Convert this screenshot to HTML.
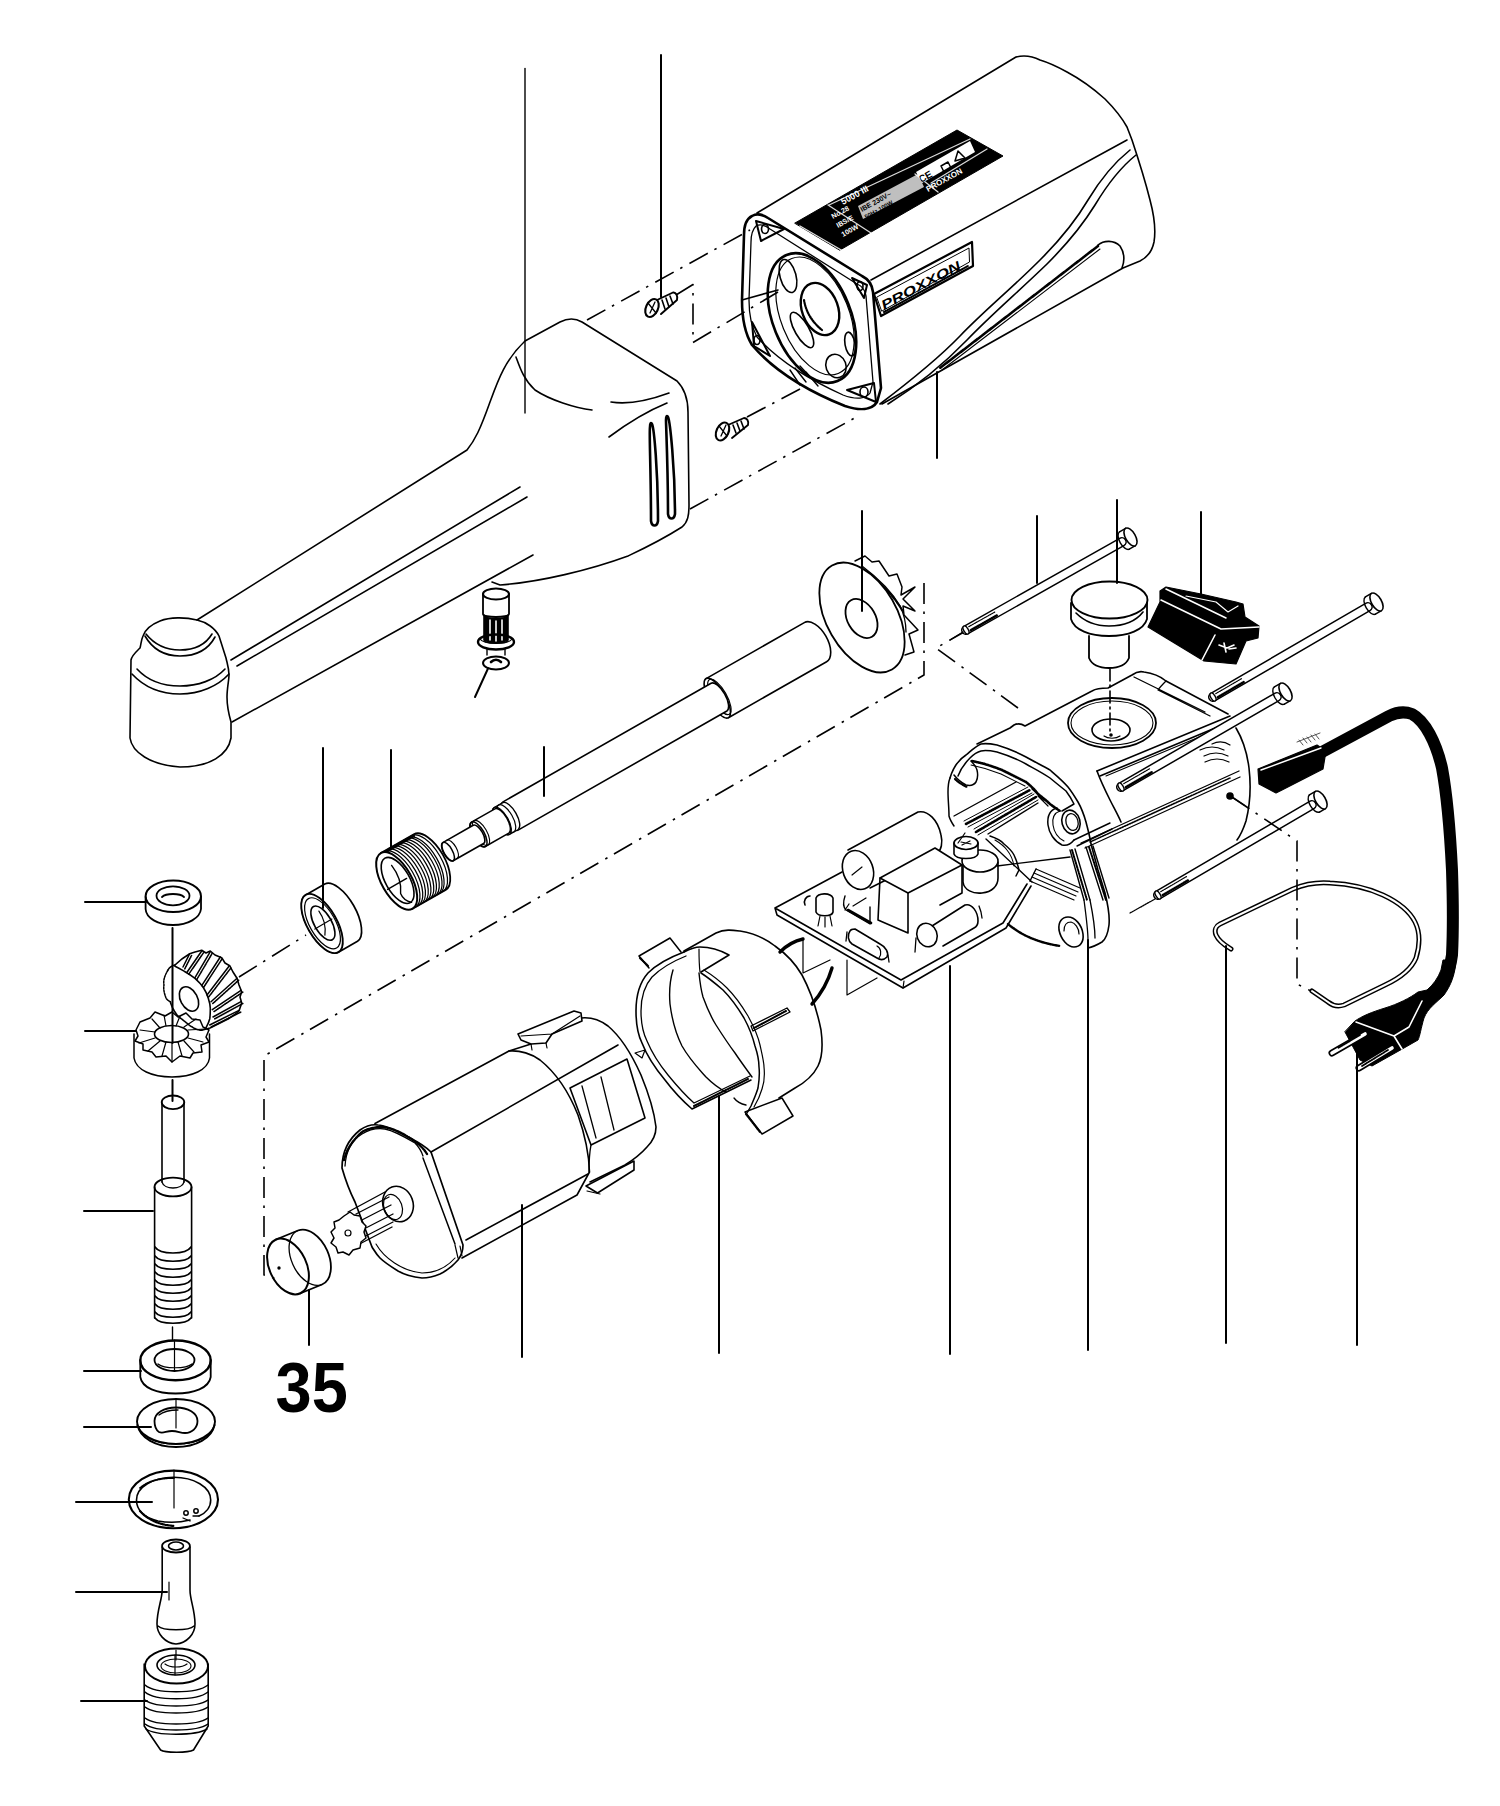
<!DOCTYPE html>
<html><head><meta charset="utf-8">
<style>
html,body{margin:0;padding:0;background:#fff;}
svg{display:block;}
text{font-family:"Liberation Sans",sans-serif;}
</style></head>
<body>
<svg width="1500" height="1806" viewBox="0 0 1500 1806">
<rect width="1500" height="1806" fill="#fff"/>
<g fill="none" stroke="#000" stroke-width="1.6" stroke-linecap="round" stroke-linejoin="round">
<!-- DASH-DOT LINES -->
<g id="dash" stroke-width="1.6" stroke-dasharray="21 7.5 2.5 8" stroke-linecap="butt">
<path d="M587 320L750 230"/>
<path d="M676 295L693 284.5V342.5L778 292"/>
<path d="M690 509L860 415"/>
<path d="M747 417L800 389"/>
<path d="M924 583V675L264 1056V1275L280 1280"/>
<path d="M1018 708L936 648L964 632"/>
<path d="M239 977L306 935"/>
</g>
<text x="0" y="0" transform="translate(275.5 1411.5) scale(1 1.085)" font-size="65" font-weight="bold" fill="#000" stroke="none">35</text>

<!-- GEARHEAD HOUSING -->
<g id="gearhead">
<path d="M197 620L467 450C475 440 480 430 490 402C498 380 505 360 525 341L560 322C568 318 575 318 582 322L677 381C684 388 688 398 688 412L689 505C689 515 688 522 682 527C660 541 645 548 628 556C590 570 540 582 500 585L492 582"/>
<path d="M516 357C520 368 524 380 535 390C550 400 575 408 592 410"/>
<path d="M611 402C630 405 650 400 669 393"/>
<path d="M609 437C625 425 645 412 667 403"/>
<path d="M231 660L520 487M237 666L527 497M232 722L533 555"/>
<!-- vents -->
<path d="M652 424C654 428 658 470 658 521C657 527 652 527 651 521C651 470 649 432 650 427C650 423 651 422 652 424Z" stroke-width="2.6"/>
<path d="M668 417C670 421 675 468 675 514C674 520 669 520 668 514C668 468 666 426 666 420C666 416 667 415 668 417Z" stroke-width="2.6"/>
<!-- head -->
<path d="M197 620C185 617 170 617 160 621C150 625 145 630 143 636C141 640 141 645 140 648C136 652 132 655 131 660L130 738C132 752 150 765 180 767C210 767 228 755 231 738L231 722C229 715 227 705 227 697C227 688 229 680 229 675C229 668 227 663 226 658L219 636C215 628 206 622 197 620Z"/>
<path d="M146 634C154 644 165 650 180 650C195 650 206 644 212 634"/>
<path d="M145 636C153 650 165 656 180 656C195 656 208 650 215 637"/>
<path d="M137 669C148 681 162 686 180 686C198 686 215 680 225 669"/>
<path d="M132 674C145 688 162 694 180 694C200 694 218 686 229 674"/>
<!-- pin under housing -->
<g>
<path d="M483 594V614C483 618 509 618 509 614V594" stroke-width="1.8"/>
<ellipse cx="496" cy="594" rx="13" ry="5.4" stroke-width="2"/>
<path d="M484 615C484 620 508 620 508 615L508 640C508 644 484 644 484 640Z" fill="#000"/>
<path d="M490 620V640M496 621V641M502 620V640" stroke="#fff" stroke-width="1.6"/>
<ellipse cx="496" cy="642" rx="18" ry="7.5" stroke-width="2.4"/>
<path d="M480 639C484 645 508 645 512 639" stroke-width="1.2"/>
<path d="M487 649V655M505 649V655" stroke-width="1.4"/>
<ellipse cx="496" cy="663" rx="13" ry="6.5" stroke-width="2"/>
<path d="M491 662C494 659 498 659 501 662" stroke-width="2.6"/>
</g>
</g>

<!-- MOTOR HOUSING (top right) -->
<g id="mhousing">
<!-- body silhouette -->
<path d="M757 213L1016 57C1024 55 1032 56 1040 60C1050 63 1058 67 1067 72C1082 80 1095 90 1105 99C1115 109 1122 118 1127 127L1132 140C1138 158 1145 180 1150 200C1154 215 1156 230 1154 242C1152 252 1146 258 1140 261L1123 268L882 404"/>
<!-- top/side edge -->
<path d="M871 280L1127 140"/>
<!-- swoosh double line -->
<path d="M1130 150C1115 162 1100 180 1088 200C1075 222 1060 240 1040 260C1010 290 985 310 960 336C935 362 905 385 880 404"/>
<path d="M1136 155C1121 167 1107 185 1095 205C1082 226 1067 244 1047 264C1017 293 992 314 967 340C942 366 912 389 888 404"/>
<!-- grip slot -->
<path d="M1098 245C1104 240 1114 240 1120 246C1124 252 1125 260 1122 268"/>
<path d="M1098 246L940 368" stroke-width="2.6" stroke-dasharray="1.2 0.8"/>
<path d="M1100 249L942 370" stroke-width="1.1"/>
<!-- front flange -->
<path d="M752 216C746 219 744 226 744 235L742 300C742 318 744 332 752 345C770 366 800 388 845 406C860 411 872 410 877 402L881 388L873 292C872 283 868 279 862 276L768 218C762 214 757 213 752 216Z" stroke-width="2.6"/>
<path d="M756 226C752 230 751 236 751 242L749 300C749 315 751 326 757 337C775 357 803 377 843 395C856 400 866 399 870 393L873 382L866 296C865 289 862 286 857 284L770 229C765 225 760 224 756 226Z" stroke-width="1.3"/>
<ellipse cx="812" cy="318" rx="39" ry="68" transform="rotate(-22 812 318)" stroke-width="2.6"/>
<ellipse cx="815" cy="316" rx="34" ry="62" transform="rotate(-22 815 316)" stroke-width="1.2"/>
<ellipse cx="820" cy="309" rx="18" ry="27" transform="rotate(-20 820 309)" stroke-width="2.4"/>
<path d="M804 300C806 312 812 322 822 330" stroke-width="2.2" stroke-dasharray="1.5 1"/>
<ellipse cx="788" cy="276" rx="8" ry="17" transform="rotate(-15 788 276)"/>
<ellipse cx="802" cy="330" rx="7" ry="20" transform="rotate(-30 802 330)"/>
<ellipse cx="836" cy="366" rx="10" ry="12" transform="rotate(-20 836 366)"/>
<ellipse cx="850" cy="344" rx="5" ry="12" transform="rotate(-10 850 344)"/>
<path d="M756 221L784 229L761 241Z" stroke-width="2"/>
<ellipse cx="765" cy="229" rx="3.5" ry="4.5" stroke-width="1.6"/>
<path d="M852 278L867 285L864 298Z" stroke-width="2"/>
<ellipse cx="860" cy="286" rx="3" ry="4.5" stroke-width="1.6"/>
<path d="M752 322L770 356L754 346Z" stroke-width="2"/>
<ellipse cx="757" cy="340" rx="3" ry="4.5" stroke-width="1.6"/>
<path d="M847 390L874 383L876 402Z" stroke-width="2"/>
<ellipse cx="864" cy="392" rx="4" ry="5" stroke-width="1.6"/>
<path d="M790 370L800 385M795 368L806 382M800 366L812 379M806 372L818 386" stroke-width="1.4"/>
<path d="M742 300L778 290" />
<!-- top label -->
<path d="M795 223L957 130L1003 156L840 250Z" fill="#000" stroke="#000" stroke-width="1"/>
<path d="M829 205L970 139M931 183L987 149M915 174L938 192M828 205L871 233M800 226L843 251" stroke="#fff" stroke-width="1.3" stroke-opacity="0.85"/>
<path d="M916 172L970 141L975 152L922 183Z" fill="#fff" stroke="none"/>
<g fill="#000" stroke="none" font-family="Liberation Sans" font-weight="bold">
<text font-size="10" transform="translate(921 183) rotate(-29)">CE</text>
</g>
<path d="M941 166L948 162L951 168L944 172ZM958 151L965 158L955 161Z" fill="none" stroke="#000" stroke-width="1.5"/>
<path d="M858 206L918 174L924 187L863 219Z" fill="#fff" stroke="none" fill-opacity="0.75"/>
<g fill="#000" stroke="none" font-family="Liberation Sans" font-weight="bold">
<text font-size="7" transform="translate(862 212) rotate(-29)">IBE 230V~</text>
<text font-size="6" transform="translate(866 219) rotate(-29)">50Hz 100W</text>
</g>
<g fill="#fff" stroke="none" font-family="Liberation Sans" font-weight="bold">
<text font-size="9" transform="translate(843 205) rotate(-29)">5000 III</text>
<text font-size="8" transform="translate(928 192) rotate(-29)">PROXXON</text>
<text font-size="7" transform="translate(833 219) rotate(-29)">No.28</text>
<text font-size="7" transform="translate(838 228) rotate(-29)">IBS/E</text>
<text font-size="7" transform="translate(843 237) rotate(-29)">100W</text>
</g>
<!-- side label -->
<path d="M874 294L972 242L973 266L881 316Z" fill="#fff" stroke="#000" stroke-width="2.2"/>
<path d="M877 297L969 248L969.5 262L882 311Z" fill="none" stroke="#000" stroke-width="1"/>
<g fill="#000" stroke="none" font-family="Liberation Sans" font-weight="bold" font-style="italic">
<text font-size="13" transform="translate(884 310) rotate(-28)" textLength="88" lengthAdjust="spacingAndGlyphs">PROXXON</text>
</g>
<path d="M884 312L968 266" stroke="#000" stroke-width="2" stroke-dasharray="1.3 1"/>
</g>
<!-- screws -->
<g id="screws">
<path d="M657 300L673 292.5C676 292 678 296 677 300L661 314" stroke-width="1.9"/>
<path d="M662 300L665 309M666 298L669 307M670 296L673 304" stroke-width="1.6"/>
<ellipse cx="652" cy="308" rx="6" ry="9.5" transform="rotate(25 652 308)" fill="#fff" stroke-width="2.1"/>
<path d="M648 303L656 313M650 313L655 302" stroke-width="1.3"/>
<path d="M728 425L744 418C747 418 749 421 748 425L732 438" stroke-width="1.9"/>
<path d="M733 425L736 433M737 423L740 431M741 421L744 429" stroke-width="1.6"/>
<ellipse cx="722.5" cy="431.5" rx="6" ry="9.5" transform="rotate(25 722.5 431.5)" fill="#fff" stroke-width="2.1"/>
<path d="M719 426L727 436M721 436L726 425" stroke-width="1.3"/>
</g>

<!-- SHAFT ASSEMBLY (generated) -->
<g id="shaft">
<!-- disc gear teeth -->
<path d="M855 561L865 556L872 562L879 561L889 576L897 574L902 587L901 595L915 587L903 599L915 611L903 606L904 615L918 630L909 634L914 652L905 655" stroke-width="1.5"/>
<path d="M862 566C878 578 892 592 900 606C904 614 906 622 906 632" stroke-width="1.3"/>
<path d="M864 570C880 582 894 596 902 610" stroke-width="2.2" stroke-dasharray="1.2 1"/>
<!-- disc -->
<ellipse cx="862" cy="617.5" rx="35" ry="60" transform="rotate(-30 862 617.5)" fill="#fff" stroke-width="1.8"/>
<ellipse cx="861.5" cy="618.5" rx="14" ry="21" transform="rotate(-30 861.5 618.5)" stroke-width="1.8"/>
<path d="M706.1 678.6L804.3 622.6A12 22.5 -29.7 0 1 826.6 661.7L728.4 717.7Z" fill="#fff" stroke-width="1.6"/>
<ellipse cx="717.3" cy="698.1" rx="8.1" ry="22.5" transform="rotate(-29.7 717.3 698.1)" fill="#fff" stroke-width="1.6"/>
<ellipse cx="719.4" cy="696.9" rx="7.2" ry="20.0" transform="rotate(-29.7 719.4 696.9)" fill="none" stroke-width="1.2"/>
<path d="M502.6 802.1L711.1 683.2A6.7 16.0 -29.7 0 1 726.9 711.0L518.5 829.9A6.7 16.0 -29.7 0 1 502.6 802.1Z" fill="#fff" stroke-width="1.6"/>
<path d="M494.2 807.5L502.9 802.6A6.5 15.5 -29.7 0 1 518.2 829.5L509.5 834.5A6.5 15.5 -29.7 0 1 494.2 807.5Z" fill="#fff" stroke-width="1.4"/>
<ellipse cx="501.8" cy="821.0" rx="6.5" ry="15.5" transform="rotate(-29.7 501.8 821.0)" stroke-width="1.3"/>
<ellipse cx="506.2" cy="818.5" rx="6.5" ry="15.5" transform="rotate(-29.7 506.2 818.5)" fill="none" stroke-width="1.2"/>
<path d="M471.5 822.2L494.9 808.8A5.9 14.0 -29.7 0 1 508.8 833.1L485.3 846.5A5.9 14.0 -29.7 0 1 471.5 822.2Z" fill="#fff" stroke-width="1.5"/>
<ellipse cx="478.4" cy="834.4" rx="5.9" ry="14.0" transform="rotate(-29.7 478.4 834.4)" stroke-width="1.5"/>
<ellipse cx="481.0" cy="832.9" rx="5.9" ry="14.0" transform="rotate(-29.7 481.0 832.9)" fill="none" stroke-width="1.1"/>
<path d="M442.8 842.6L473.2 825.2A4.4 10.5 -29.7 0 1 483.6 843.5L453.2 860.8A4.4 10.5 -29.7 0 1 442.8 842.6Z" fill="#fff" stroke-width="1.6"/>
<ellipse cx="448.0" cy="851.7" rx="4.4" ry="10.5" transform="rotate(-29.7 448.0 851.7)" stroke-width="1.5"/>
<path d="M447.1 840.1A4.4 10.5 -29.7 0 1 457.5 858.3" stroke-width="1.1" />
<path d="M383.6 851.6A15.0 32.0 -29.7 0 1 415.3 907.2" stroke-width="1.25" />
<path d="M386.4 850.0A15.0 32.0 -29.7 0 1 418.1 905.6" stroke-width="1.25" />
<path d="M389.1 848.4A15.0 32.0 -29.7 0 1 420.8 904.0" stroke-width="1.25" />
<path d="M391.9 846.9A15.0 32.0 -29.7 0 1 423.6 902.5" stroke-width="1.25" />
<path d="M394.6 845.3A15.0 32.0 -29.7 0 1 426.3 900.9" stroke-width="1.25" />
<path d="M397.4 843.7A15.0 32.0 -29.7 0 1 429.1 899.3" stroke-width="1.25" />
<path d="M400.1 842.2A15.0 32.0 -29.7 0 1 431.8 897.8" stroke-width="1.25" />
<path d="M402.9 840.6A15.0 32.0 -29.7 0 1 434.6 896.2" stroke-width="1.25" />
<path d="M405.6 839.0A15.0 32.0 -29.7 0 1 437.4 894.6" stroke-width="1.25" />
<path d="M408.4 837.5A15.0 32.0 -29.7 0 1 440.1 893.0" stroke-width="1.25" />
<path d="M411.1 835.9A15.0 32.0 -29.7 0 1 442.9 891.5" stroke-width="1.25" />
<path d="M380.9 853.1L413.9 834.3A15.0 32 -29.7 0 1 445.6 889.9L412.6 908.7" stroke-width="1.8"/>
<path d="M381.6 854.4L414.6 835.6" stroke-width="2.4" stroke-dasharray="1.2 0.8"/>
<ellipse cx="396.7" cy="880.9" rx="15.0" ry="32.0" transform="rotate(-29.7 396.7 880.9)" fill="#fff" stroke-width="2.0"/>
<ellipse cx="397.6" cy="880.4" rx="12.0" ry="25.6" transform="rotate(-29.7 397.6 880.4)" fill="none" stroke-width="1.6"/>
<path d="M391.6 865.4C398.6 874.4 401.6 884.4 400.6 893.4C402.6 898.4 407.6 901.4 411.6 902.4M387.6 889.4L406.6 878.4" stroke-width="1.4"/>
<path d="M305.7 894.9L324.8 884.0A14.8 33.0 -29.7 0 1 357.5 941.3L338.4 952.2A14.8 33.0 -29.7 0 1 305.7 894.9Z" fill="#fff" stroke-width="1.7"/>
<ellipse cx="322.0" cy="923.5" rx="14.8" ry="33.0" transform="rotate(-29.7 322.0 923.5)" fill="#fff" stroke-width="1.9"/>
<ellipse cx="322.5" cy="923.3" rx="12.8" ry="28.4" transform="rotate(-29.7 322.5 923.3)" fill="none" stroke-width="1.2"/>
<ellipse cx="322.9" cy="923.1" rx="8.6" ry="19.1" transform="rotate(-29.7 322.9 923.1)" fill="none" stroke-width="1.6"/>
<path d="M318.9 911.1C323.9 918.1 325.9 927.1 324.9 935.1M314.9 929.1L331.9 919.1" stroke-width="1.2"/>
</g>

<!-- LEFT COLUMN -->
<g id="leftcol">
<!-- ring top -->
<path d="M145.6 897V909C146 918 158 925 173 925C188 925 200 918 201 909V897" stroke-width="1.8"/>
<ellipse cx="173.3" cy="896.2" rx="27.7" ry="15.8" stroke-width="2"/>
<ellipse cx="173" cy="895.8" rx="16.5" ry="9.5" stroke-width="1.8"/>
<path d="M162 897C166 893 180 893 184 897" stroke-width="1.8"/>
<!-- vertical axis line -->
<path d="M172.5 928V1043M172.5 1080V1101" stroke-width="2"/>
<!-- spur gear (tilted) -->
<g stroke-width="1.5">
<path d="M175 965C180 960 184 957 189.7 953.7L195 952L201.7 950.3L206 953L210.3 951L215 955L221.7 957.7L225 963L229.7 965.7L233 972L237 978.3L239 985L241.7 991.7L240 997L241.7 1003L239 1011L234 1015L228 1019L218 1024L210 1028L201.7 1030.3" stroke-width="1.6"/>
<path d="M183.0 967.0L189.7 953.7 M187.0 972.3L201.7 951.0 M195.0 977.7L210.3 951.7 M201.7 985.7L220.3 957.0 M207.0 995.0L229.0 966.3 M211.0 1001.7L237.0 978.3 M212.3 1009.7L241.0 990.3 M213.0 1017.0L241.0 1001.7 M209.7 1025.0L239.0 1010.3" stroke-width="1.5"/>
<path d="M184.8 968.8L191.5 955.5 M188.8 974.1L203.5 952.8 M196.8 979.5L212.1 953.5 M203.5 987.5L222.1 958.8 M208.8 996.8L230.8 968.1 M212.8 1003.5L238.8 980.1 M214.1 1011.5L242.8 992.1 M214.8 1018.8L242.8 1003.5 M211.5 1026.8L240.8 1012.1" stroke-width="1.6" stroke-dasharray="1.2 0.9"/>
<path d="M168 970C165 975 163 980 164 985C163 990 165 995 166 998C167 1000 169 1001 170.3 1001.7" stroke-width="1.5" stroke-dasharray="2 1"/>
<path d="M175 965C171 966 169 968 168 970" stroke-width="1.5"/>
<path d="M170.3 1001.7C172 1008 175 1012 177 1015C180 1018 183 1020 185 1021.7C188 1024 190 1026 192.3 1027C195 1029 198 1030 201.7 1030.3" stroke-width="1.6" stroke-dasharray="2.5 1"/>
<path d="M175 966.3C179 968 182 970 185 971.7C189 974 192 976 195 978.3C198 981 201 984 203 987C205 990 207 994 208.3 998.3C209.5 1002 210.3 1005 210.3 1008.3C210.3 1012 210.3 1016 209.7 1019C209 1022 207.5 1025 205.7 1028.3" stroke-width="1.6"/>
<ellipse cx="189" cy="999" rx="8.5" ry="13" transform="rotate(-28 189 999)" stroke-width="1.6"/>
</g>
<!-- bevel gear -->
<g stroke-width="1.5">
<path d="M134 1034V1058C136 1070 152 1077 172 1077C192 1077 208 1070 209.5 1058V1034"/>
<ellipse cx="171.5" cy="1034" rx="17" ry="8.5" stroke-width="1.6"/>
<path d="M136 1030L140 1022L150 1018L155 1012L165 1016L172 1012L178 1017L186 1013L192 1019L200 1020L203 1027L209 1030L206 1037L209 1042L201 1045L202 1052L193 1053L190 1058L180 1056L172 1062L166 1056L156 1057L152 1052L143 1050L143 1044L135 1041L138 1036Z"/>
<path d="M155 1032L140 1030M155 1038L139 1043M160 1041L148 1051M166 1042L162 1056M172 1043V1062M178 1042L182 1056M184 1041L194 1052M188 1038L203 1042M188 1030L205 1029M184 1027L196 1019M176 1026L180 1016M166 1026L164 1015M160 1028L152 1019" stroke-width="1.2"/>
</g>
<!-- spindle -->
<g stroke-width="1.6">
<ellipse cx="173" cy="1102.3" rx="11.3" ry="6.8" stroke-width="1.8"/>
<path d="M162 1103V1182M184 1103V1182"/>
<ellipse cx="173" cy="1187" rx="18.5" ry="9.4" stroke-width="1.8"/>
<path d="M162 1182C164 1190 182 1190 184 1182" stroke-width="1.3"/>
<path d="M154.6 1187V1318M191.6 1187V1318"/>
<path d="M155 1247C160 1255 186 1255 191 1247M155 1256C160 1263 186 1263 191 1256M155 1264C160 1271 186 1271 191 1264M155 1272C160 1279 186 1279 191 1272M155 1280C160 1287 186 1287 191 1280M155 1288C160 1295 186 1295 191 1288M155 1296C160 1303 186 1303 191 1296M155 1304C160 1311 186 1311 191 1304M155 1312C160 1319 186 1319 191 1312M155 1318C160 1325 186 1325 191 1318" stroke-width="1.7"/>
<path d="M172.5 1327V1340" stroke-width="1.4"/>
</g>
<!-- bearing 2 -->
<path d="M140.3 1360V1377C142 1388 157 1393.5 175.5 1393.5C194 1393.5 209 1388 210.7 1377V1360" stroke-width="1.8"/>
<ellipse cx="175.5" cy="1360.4" rx="35.2" ry="19.9" stroke-width="2.4"/>
<ellipse cx="174.5" cy="1360" rx="20" ry="11" stroke-width="1.8"/>
<path d="M158 1364C164 1369 186 1369 192 1364" stroke-width="1.2"/>
<path d="M174.5 1340V1370" stroke-width="1.2"/>
<!-- washer -->
<ellipse cx="176" cy="1421.5" rx="39" ry="22.5" stroke-width="1.9"/>
<path d="M137.5 1425C140 1438 156 1447 176 1447C196 1447 212 1438 214.5 1425" stroke-width="1.9"/>
<path d="M140 1430C146 1440 160 1444 176 1444C192 1444 206 1440 212 1430" stroke-width="1.2" stroke-dasharray="1.5 1"/>
<path d="M154.5 1421C154.5 1413 164 1407.5 176 1407.5C188 1407.5 197.5 1413 197.5 1421C197.5 1428 192 1433 185 1433C180 1433 178 1431 172 1431C166 1431 163 1434 159 1432C156 1430 154.5 1426 154.5 1421Z" stroke-width="1.8"/>
<path d="M159 1415C164 1411 172 1410 178 1410" stroke-width="1.3"/>
<path d="M176 1400V1428" stroke-width="1.2"/>
<!-- circlip -->
<ellipse cx="173.4" cy="1499.4" rx="44.6" ry="28.8" stroke-width="2.1"/>
<path d="M190 1520C180 1522.5 168 1522.8 158 1521C144 1518 136.5 1510 136.5 1500C136.5 1487 153 1477.3 173.6 1477.3C194 1477.3 210.7 1487 210.7 1500C210.7 1507 206 1513 199 1516" stroke-width="1.6"/>
<path d="M140 1511C148 1520 160 1525 174 1526" stroke-width="2.2" stroke-dasharray="1.4 1"/>
<path d="M140 1488C148 1481 160 1478 174 1478" stroke-width="1.8" stroke-dasharray="1.4 1"/>
<circle cx="186" cy="1513" r="2.2" stroke-width="1.5"/>
<circle cx="196" cy="1511" r="2.2" stroke-width="1.5"/>
<path d="M183 1518L190 1521M193 1516L199 1516" stroke-width="1.3"/>
<path d="M174 1470V1508" stroke-width="1.2"/>
<!-- collet -->
<g stroke-width="1.6">
<ellipse cx="176" cy="1546" rx="13.9" ry="6.5" stroke-width="1.8"/>
<ellipse cx="176" cy="1546" rx="7.5" ry="4" stroke-width="1.6"/>
<path d="M162.2 1547V1590C162 1600 157 1610 157 1624C157 1634 165 1643 176 1644C187 1643 195 1634 195 1624C195 1610 190 1600 190 1590V1547"/>
<path d="M158 1626C163 1631 189 1631 194 1626" stroke-width="1.3"/>
<path d="M169 1582V1600" stroke-width="1.2"/>
</g>
<path d="M176 1650V1660" stroke-width="1.2"/>
<!-- chuck nut -->
<g stroke-width="1.6">
<ellipse cx="176.5" cy="1666" rx="31.5" ry="17.5" stroke-width="1.9"/>
<ellipse cx="176" cy="1665" rx="19" ry="10" stroke-width="1.6"/>
<ellipse cx="176" cy="1666" rx="15" ry="7" stroke-width="1.1"/>
<path d="M165 1664C170 1668 182 1668 187 1664" stroke-width="1.2"/>
<path d="M175 1655V1675" stroke-width="1.2"/>
<path d="M144.2 1664V1726L160.6 1750C165 1753 188 1753 193.5 1750L208.2 1726V1664"/>
<path d="M145 1685C155 1694 197 1694 208 1685M145 1692C155 1701 197 1701 208 1692M145 1700C155 1708 197 1708 208 1700M145 1707C155 1715 197 1715 208 1707M145 1718C155 1726 197 1726 208 1718M145 1724C155 1732 197 1732 208 1724M146 1729C156 1736 196 1736 207 1729" stroke-width="1.5"/>
</g>
</g>

<!-- MOTOR -->
<g id="motor">
<!-- front end cap -->
<path d="M342 1168C342 1150 350 1138 360 1130C366 1126 372 1124 378 1125C385 1125 395 1130 410 1138C418 1142 425 1146 431 1152L463 1245C463 1252 461 1256 458 1260C452 1267 446 1271 440 1274C433 1277 428 1278 422 1278C412 1277 405 1275 398 1271C390 1266 384 1262 380 1258C376 1254 374 1250 372 1247L355 1202C350 1192 346 1182 342 1168Z" fill="#fff" stroke-width="1.7"/>
<path d="M345 1166C346 1150 352 1140 362 1134C370 1129 378 1128 385 1129C395 1131 405 1137 415 1143C418 1146 421 1150 423 1156" stroke-width="1.3"/>
<path d="M344 1160C347 1148 354 1139 362 1132C369 1128 376 1127 383 1127C393 1128 404 1134 413 1140C419 1144 424 1149 427 1154" stroke-width="2.4" stroke-dasharray="1.3 1"/>
<path d="M423 1158L455 1244" stroke-width="1.5"/>
<path d="M376 1244C384 1258 402 1271 422 1273C435 1273 447 1267 455 1258" stroke-width="1.1"/>
<path d="M455 1245L458 1258M460 1246L462 1256" stroke-width="1.2"/>
<!-- body lines -->
<path d="M375 1123.5L509 1051C520 1050 532 1054 540 1060C555 1072 568 1090 578 1115C585 1135 589 1155 589.5 1172L577 1195L462 1258"/>
<path d="M431 1152L618 1045"/>
<path d="M466 1240L588 1174"/>
<!-- rear section -->
<path d="M509 1051L531 1044M581 1018C590 1017 600 1020 608 1026C620 1036 632 1055 641 1075C648 1092 654 1110 656 1127C656 1135 652 1142 647 1147C640 1155 633 1160 625 1165L590 1182"/>
<path d="M570 1088L627 1059L645 1118L591 1145Z"/>
<path d="M582 1086L596 1138M601 1077L614 1130" stroke-width="1.3"/>
<path d="M591 1145C590 1150 589 1160 589 1172" stroke-width="1.3"/>
<!-- top tab -->
<path d="M518 1034L574 1011L581 1013L582 1021L552 1034L546 1043L531 1044L521 1040Z" fill="#fff" stroke-width="1.6"/>
<path d="M521 1036L552 1034M552 1034L580 1016" stroke-width="1.2"/>
<path d="M531 1044L532 1050M546 1043L547 1048" stroke-width="1.2"/>
<!-- bottom tab -->
<path d="M586 1186L634 1161V1170L597.5 1193Z"/>
<path d="M587 1191L600 1194" stroke-width="1.2"/>
<!-- pinion boss -->
<ellipse cx="398" cy="1204" rx="15" ry="18" transform="rotate(-20 398 1204)" stroke-width="1.6"/>
<ellipse cx="393" cy="1207" rx="9" ry="13" transform="rotate(-20 393 1207)" stroke-width="1.2"/>
<!-- pinion gear -->
<path d="M348 1212L385 1192M352 1248L392 1227" stroke-width="1.4"/>
<path d="M356 1214L389 1197M358 1222L391 1205M360 1231L393 1214M360 1239L393 1222" stroke-width="1.3"/>
<path d="M344 1216L350 1212L354 1215L360 1216L362 1222L366 1226L364 1232L366 1238L361 1242L360 1248L353 1250L349 1255L343 1252L338 1253L336 1247L331 1243L334 1238L331 1232L335 1228L334 1222L339 1220Z" fill="#fff" stroke-width="1.5"/>
<circle cx="348" cy="1233" r="3" stroke-width="1.2"/>
</g>
<!-- RING 35 -->
<g id="ring35">
<path d="M276.0 1239.5L298.0 1230.5A18.5 29.5 -25 0 1 322.0 1284.5L300.0 1293.5" stroke-width="1.8"/>
<path d="M298.0 1230.5A18.5 29.5 -25 0 0 322.0 1284.5" stroke-width="1.3"/>
<ellipse cx="288" cy="1266.5" rx="18.5" ry="29.5" transform="rotate(-25 288 1266.5)" stroke-width="2"/>
<circle cx="279" cy="1268" r="0.9" fill="#000"/>
</g>

<!-- SHROUD RING -->
<g id="shroud">
<!-- back silhouette -->
<path d="M684 951L716 933C725 929 732 930 740 931C752 933 765 938 775 946C785 953 795 963 802 975C810 990 817 1010 821 1030C823 1045 822 1058 818 1066C814 1074 806 1082 795 1088L779 1098" stroke-width="1.6"/>
<!-- front-left double arc -->
<path d="M684 952C668 958 656 965 648 973C640 982 636 995 636 1011C636 1025 638 1035 642 1043C647 1056 655 1068 665 1080C674 1092 684 1102 692 1109L751 1080" stroke-width="1.6"/>
<path d="M686 956C671 962 660 969 652 977C645 985 641 997 641 1011C641 1024 643 1033 647 1041C652 1053 659 1064 668 1075C677 1086 686 1096 694 1103L750 1076" stroke-width="1.3"/>
<path d="M694 1106L748 1079" stroke-width="2" stroke-dasharray="1.2 1"/>
<!-- inner arc A -->
<path d="M673 970C670 980 669 992 670 1004C672 1020 676 1034 682 1046C690 1060 698 1068 706 1077C713 1084 720 1089 726 1092" stroke-width="1.4"/>
<!-- inner arc B -->
<path d="M699 973C700 983 701 990 703 997C707 1008 711 1017 716 1025C723 1036 729 1045 735 1053C741 1062 747 1070 752 1077" stroke-width="1.4"/>
<!-- top rim + notch -->
<path d="M684 952C690 949 695 947 700 947C710 947 720 950 729 955L701 972" stroke-width="1.6"/>
<path d="M699 949C699 956 699 964 700 972" stroke-width="1.2"/>
<!-- right front edge (double) -->
<path d="M701 973C709 978 716 984 723 990C731 998 738 1008 744 1018C750 1029 753 1038 755 1046C758 1055 759 1062 759 1067C760 1076 759 1082 758 1088C756 1095 753 1101 751 1106L747 1113" stroke-width="1.5"/>
<path d="M704 970C712 975 720 981 727 988C735 996 742 1006 748 1016C754 1027 758 1036 760 1045C762 1054 764 1062 764 1067C765 1076 764 1083 762 1089C760 1096 757 1102 754 1107" stroke-width="1.2"/>
<!-- slot -->
<path d="M751 1026L787 1008L790 1012L753 1031Z" stroke-width="1.3"/>
<path d="M754 1028L786 1011" stroke-width="2" stroke-dasharray="1.2 0.9"/>
<!-- tabs -->
<path d="M639 956L670 938L681 952M649 968L639 956" stroke-width="1.5"/>
<path d="M640 958L648 966" stroke-width="2.2" stroke-dasharray="1 0.8"/>
<path d="M745 1112L782 1098L793 1116L762 1134Z" stroke-width="1.5"/>
<path d="M746 1114L760 1132" stroke-width="2.2" stroke-dasharray="1 0.8"/>
<path d="M734 1098C737 1102 741 1104 746 1105" stroke-width="1.3"/>
<path d="M635 1053L645 1050L642 1058Z" stroke-width="1.2"/>
</g>
<!-- WIRES under PCB -->
<path d="M780 952C786 946 794 941 803 939" stroke-width="3.4"/>
<path d="M812 1004C820 995 828 982 832 968" stroke-width="3.4"/>
<path d="M803 939V973L830 960M847 960V995L877 978" stroke-width="1.2"/>

<!-- PCB -->
<g id="pcb">
<!-- board -->
<path d="M775 908L842 872M775 908L777 915L903 988L1006 928L1031 886M775 908L901 980L1003 923L1027 884" stroke-width="1.6"/>
<path d="M903 988L904 981" stroke-width="1.2"/>
<!-- big capacitor -->
<path d="M848 850L918 812C928 810 938 820 941 835C943 843 941 850 938 852"/>
<path d="M870 888L890 878"/>
<ellipse cx="858" cy="870" rx="15" ry="20" transform="rotate(-20 858 870)" fill="#fff"/>
<path d="M852 875L862 867" stroke-width="1.2"/>
<!-- box component -->
<path d="M880 878L935 848L962 865L908 893Z" fill="#fff"/>
<path d="M880 878L878 920L908 933L908 893M962 865L962 893L940 905" />
<!-- resistor right -->
<path d="M932 926L965 905C972 903 978 912 978 921C978 925 976 927 974 928L943 946"/>
<ellipse cx="927" cy="935" rx="10" ry="12" transform="rotate(-20 927 935)" fill="#fff"/>
<path d="M979 906L981 912L982 918M916 938L915 952" stroke-width="1.3"/>
<!-- resistor front-left -->
<path d="M855 929L880 944C886 947 889 953 887 957C884 960 880 960 877 958L852 944C848 941 847 935 850 931C851 929 853 929 855 929Z"/>
<path d="M877 946C881 948 882 954 879 958" stroke-width="1.2"/>
<path d="M847 932L846 941M888 955L889 962" stroke-width="1.3"/>
<!-- transistor -->
<path d="M816 898C818 893 830 892 833 898V912C832 917 818 917 816 912Z"/>
<path d="M820 916L818 926M825 917V927M830 916L832 926" stroke-width="1.2"/>
<path d="M805 905C803 901 806 896 810 896" stroke-width="1.6"/>
<!-- small ceramic -->
<path d="M845 896C843 902 843 907 846 910L870 924L870 907" stroke-width="1.4"/>
<path d="M848 910L871 923" stroke-width="2.6"/>
<path d="M853 906L866 898" stroke-width="1.2"/>
<path d="M845 910L849 904" stroke-width="1.2"/>
<!-- knob on top (pot) -->
<path d="M963 866V882C964 890 973 894 982 893C992 892 998 886 998 878V862" />
<ellipse cx="980" cy="861" rx="18" ry="11" fill="#fff"/>
<path d="M954 843V854C956 860 976 860 978 854V843" fill="#fff" stroke-width="1.6"/>
<ellipse cx="966" cy="843" rx="12" ry="6.5" fill="#fff" stroke-width="1.7"/>
<path d="M961 842L971 844M962 845L970 841" stroke-width="1.2"/>
<path d="M958 843L965 833" stroke-width="1.2"/>
</g>

<!-- REAR HOUSING -->
<g id="rear">
<!-- top outline -->
<path d="M977 744L1010 728L1014 725C1018 723 1022 724 1025 726L1092 691C1097 688 1103 688 1108 688L1132 675C1136 672 1140 671 1144 672C1152 673 1160 676 1166 681L1228 714"/>
<path d="M1134 677L1205 712M1166 681C1163 684 1160 687 1158 690L1210 716" stroke-width="1.3"/>
<!-- knob cup -->
<ellipse cx="1112" cy="723" rx="44" ry="25" stroke-width="1.8"/>
<ellipse cx="1112" cy="723" rx="41" ry="22" stroke-width="1.1"/>
<ellipse cx="1111" cy="730" rx="19" ry="11" stroke-width="1.6"/>
<path d="M1104 736C1108 739 1116 739 1120 736" stroke-width="1.2"/>
<circle cx="1111" cy="735" r="1" fill="#000"/>
<!-- front arch band -->
<path d="M950 778C953 768 958 760 966 755C972 750 976 746 981 744C986 743 992 744 997 745C1007 748 1017 752 1026 757C1035 762 1043 766 1050 770C1057 776 1063 781 1068 787C1072 792 1075 797 1078 802C1082 809 1084 815 1086 822C1088 830 1090 837 1091 844L1098 870L1105 893C1108 905 1110 915 1109 925C1108 933 1106 939 1102 942C1097 945 1093 947 1088 948" stroke-width="1.6"/>
<path d="M958 776C961 768 965 763 970 758C973 755 977 752 981 751C986 750 992 751 997 752C1007 755 1017 759 1026 764C1035 769 1043 773 1050 778C1056 783 1061 787 1066 791C1069 795 1072 800 1074 804L1062 811" stroke-width="1.5"/>
<!-- hatched inner arch -->
<path d="M972 761C982 763 992 766 1002 770C1010 774 1018 778 1026 782C1031 786 1035 790 1038 794C1043 798 1047 801 1050 804C1054 807 1057 809 1060 811" stroke-width="2.6" stroke-dasharray="1.3 0.9"/>
<path d="M971 765C981 767 991 770 1001 774C1009 778 1017 782 1025 786" stroke-width="1.1"/>
<!-- left side of arch + notch -->
<path d="M950 778C948 783 948 788 948 792C948 800 949 808 949 816C950 820 952 823 954 826" stroke-width="1.5"/>
<path d="M954 775C958 780 962 783 966 785C970 786 974 785 976 782C978 778 978 774 977 770C976 766 973 763 971 761" stroke-width="1.5"/>
<path d="M955 779C959 783 963 785 967 787" stroke-width="2.2" stroke-dasharray="1.2 0.9"/>
<!-- cavity top line + rails -->
<path d="M954 816L1016 782" stroke-width="1.4"/>
<path d="M966 824L1030 790M976 832L1036 797" stroke-width="2.6" stroke-dasharray="1.3 0.9"/>
<path d="M964 821L1028 787M968 827L1032 793M974 829L1034 794M978 835L1038 800" stroke-width="1"/>
<path d="M988 834L1038 803" stroke-width="1.4"/>
<path d="M1032 789L1044 800M1038 796L1048 806" stroke-width="1.2"/>
<!-- upper boss -->
<ellipse cx="1071" cy="822" rx="9" ry="12" transform="rotate(-15 1071 822)" stroke-width="1.6"/>
<ellipse cx="1072" cy="822" rx="6" ry="8.5" transform="rotate(-15 1072 822)" stroke-width="1.3"/>
<path d="M1057 808C1050 810 1047 816 1048 825C1049 833 1054 841 1062 845C1066 846 1070 845 1074 840" stroke-width="1.5"/>
<path d="M1060 811C1054 813 1052 818 1053 825C1054 832 1058 838 1064 841" stroke-width="1.1"/>
<!-- U-bar double strips -->
<path d="M1070 850L1084 900M1075 849L1090 900" stroke-width="1.4"/>
<path d="M1072 850L1087 900" stroke-width="2" stroke-dasharray="1.2 1"/>
<path d="M1086 847L1103 900M1093 846L1109 898" stroke-width="1.4"/>
<path d="M1089 847L1106 900" stroke-width="2" stroke-dasharray="1.2 1"/>
<path d="M1084 900C1086 915 1088 930 1088 940M1090 900C1093 915 1095 928 1095 938" stroke-width="1.3"/>
<!-- rail from boss going right -->
<path d="M1074 840L1110 823M1077 846L1112 829" stroke-width="1.4"/>
<!-- lower cavity lines -->
<path d="M986 839L1032 882" stroke-width="1.4"/>
<path d="M990 836C996 838 1001 840 1004 844C1009 848 1012 851 1014 855C1017 861 1018 866 1019 870L1016 876" stroke-width="1.5"/>
<path d="M995 840C1000 843 1004 846 1007 850C1011 855 1013 860 1014 866" stroke-width="1.1"/>
<path d="M997 866L1070 857" stroke-width="1.4"/>
<!-- lower hatched block -->
<path d="M1030 881L1074 900M1032 877L1076 896M1034 873L1078 892M1036 869L1080 888" stroke-width="1.2"/>
<path d="M1030 881L1036 869" stroke-width="1.4"/>
<!-- lower boss -->
<path d="M1059 930C1058 922 1062 917 1068 917C1075 917 1082 925 1083 934C1084 942 1080 947 1074 947C1068 947 1061 940 1059 930Z"/>
<path d="M1064 931C1064 925 1067 922 1071 922C1075 923 1079 928 1079 934" stroke-width="1.2"/>
<!-- bottom hatched arc -->
<path d="M1008 924C1022 936 1040 943 1060 946" stroke-width="2.4" stroke-dasharray="1.3 0.9"/>
<!-- top slot / rails -->
<path d="M1097 771C1101 782 1106 792 1110 800C1114 808 1118 815 1121 822"/>
<path d="M1097 771L1230 716M1100 776L1232 721"/>
<path d="M1106 776L1228 725" stroke-width="1.1"/>
<!-- rear face arc -->
<path d="M1236 728C1242 738 1247 752 1249 768C1251 785 1250 805 1246 821C1243 830 1240 836 1237 840"/>
<!-- rail through housing -->
<path d="M1081 843L1239 771M1085 848L1240 777" stroke-width="1.3"/>
<path d="M1090 842L1230 778" stroke-width="1.6" stroke-dasharray="1.5 1.2"/>
<!-- brush fins near rear -->
<path d="M1200 750C1208 746 1216 746 1224 750M1204 756C1212 752 1220 752 1228 756M1205 762C1213 758 1221 758 1229 762M1212 744C1218 741 1224 741 1230 745" stroke-width="1.2"/>
<!-- dot + wire -->
<circle cx="1230" cy="796" r="3" fill="#000"/>
<path d="M1230 796L1244 805" stroke-width="1.2"/>
</g>

<!-- RODS -->
<g id="rods">
<path d="M1121.8 542.0L966 630" stroke-width="10" stroke-linecap="round"/>
<path d="M1121.8 542.0L966 630" stroke="#fff" stroke-width="7" stroke-linecap="round"/>
<path d="M970.7 630.2L996.8 615.4" stroke-width="2.4" stroke-dasharray="1.2 0.8"/>
<path d="M968.7 626.7L994.9 612.0" stroke-width="1.2" stroke-dasharray="1.2 1"/>
<path d="M1129.3 549.2L1135.4 545.7M1119.5 531.8L1125.6 528.3" stroke-width="1.5"/>
<ellipse cx="1130.5" cy="537.0" rx="5" ry="10" transform="rotate(-29.5 1130.5 537.0)" fill="#fff" stroke-width="1.6"/>
<path d="M1129.3 549.2A5 10 -29.5 0 1 1119.5 531.8" stroke-width="1.4" transform=""/>
<ellipse cx="966" cy="630" rx="2.2" ry="4.5" transform="rotate(-29.5 966 630)" fill="#fff" stroke-width="1.4"/>
<path d="M1367.8 607.0L1213 697" stroke-width="10" stroke-linecap="round"/>
<path d="M1367.8 607.0L1213 697" stroke="#fff" stroke-width="7" stroke-linecap="round"/>
<path d="M1217.7 697.2L1243.7 682.1" stroke-width="2.4" stroke-dasharray="1.2 0.8"/>
<path d="M1215.7 693.7L1241.6 678.6" stroke-width="1.2" stroke-dasharray="1.2 1"/>
<path d="M1375.4 614.2L1381.5 610.6M1365.4 596.9L1371.4 593.3" stroke-width="1.5"/>
<ellipse cx="1376.5" cy="602.0" rx="5" ry="10" transform="rotate(-30.2 1376.5 602.0)" fill="#fff" stroke-width="1.6"/>
<path d="M1375.4 614.2A5 10 -30.2 0 1 1365.4 596.9" stroke-width="1.4" transform=""/>
<ellipse cx="1213" cy="697" rx="2.2" ry="4.5" transform="rotate(-30.2 1213 697)" fill="#fff" stroke-width="1.4"/>
<path d="M1276.8 697.0L1121 787" stroke-width="10" stroke-linecap="round"/>
<path d="M1276.8 697.0L1121 787" stroke="#fff" stroke-width="7" stroke-linecap="round"/>
<path d="M1125.7 787.2L1151.7 772.2" stroke-width="2.4" stroke-dasharray="1.2 0.8"/>
<path d="M1123.7 783.7L1149.7 768.7" stroke-width="1.2" stroke-dasharray="1.2 1"/>
<path d="M1284.4 704.2L1290.5 700.7M1274.4 686.8L1280.5 683.3" stroke-width="1.5"/>
<ellipse cx="1285.5" cy="692.0" rx="5" ry="10" transform="rotate(-30.0 1285.5 692.0)" fill="#fff" stroke-width="1.6"/>
<path d="M1284.4 704.2A5 10 -30.0 0 1 1274.4 686.8" stroke-width="1.4" transform=""/>
<ellipse cx="1121" cy="787" rx="2.2" ry="4.5" transform="rotate(-30.0 1121 787)" fill="#fff" stroke-width="1.4"/>
<path d="M1311.8 805.0L1158 895" stroke-width="10" stroke-linecap="round"/>
<path d="M1311.8 805.0L1158 895" stroke="#fff" stroke-width="7" stroke-linecap="round"/>
<path d="M1162.7 895.1L1188.6 880.0" stroke-width="2.4" stroke-dasharray="1.2 0.8"/>
<path d="M1160.7 891.7L1186.6 876.5" stroke-width="1.2" stroke-dasharray="1.2 1"/>
<path d="M1319.5 812.1L1325.5 808.6M1309.4 794.9L1315.4 791.3" stroke-width="1.5"/>
<ellipse cx="1320.5" cy="800.0" rx="5" ry="10" transform="rotate(-30.3 1320.5 800.0)" fill="#fff" stroke-width="1.6"/>
<path d="M1319.5 812.1A5 10 -30.3 0 1 1309.4 794.9" stroke-width="1.4" transform=""/>
<ellipse cx="1158" cy="895" rx="2.2" ry="4.5" transform="rotate(-30.3 1158 895)" fill="#fff" stroke-width="1.4"/>
<path d="M1155 899L1130 913" stroke-width="1.3" stroke-dasharray="1.5 1"/>
<path d="M963 632L950 640" stroke-width="1.3"/>
</g>
<!-- KNOB -->
<g id="knob">
<path d="M1071 603V619C1074 630 1090 636 1109 636C1128 636 1144 630 1147 619V603" stroke-width="1.8"/>
<path d="M1076 613C1085 622 1096 626 1109 626C1124 626 1136 621 1143 612" stroke-width="1.6"/>
<ellipse cx="1109.5" cy="600" rx="38" ry="18.5" stroke-width="1.9"/>
<path d="M1089 636V658C1092 665 1100 668 1109 668C1118 668 1126 665 1129 658V636" stroke-width="1.8"/>
<path d="M1110 669V734" stroke-width="1.6" stroke-dasharray="12 4 2 4"/>
</g>
<!-- SWITCH -->
<g id="switch">
<path d="M1160 591L1166 587L1201 594L1236 602L1243 604L1245 617L1259 626L1258 638L1246 641L1236 664L1204 661L1148 627L1160 602Z" fill="#000" stroke="#000" stroke-width="1.2"/>
<path d="M1161 600L1221 629L1259 627M1215 635L1202 660M1166 589L1226 618" stroke="#fff" stroke-width="1.6"/>
<path d="M1186 596L1216 602L1228 612L1238 606" stroke="#fff" stroke-width="1.2"/>
<path d="M1219 645L1227 648L1234 645M1224 643L1226 652M1229 649L1236 648" stroke="#fff" stroke-width="1.6"/>
</g>

<!-- CORD -->
<g id="cord">
<path d="M1322 752L1389 716C1395 713 1404 711 1412 714C1425 721 1436 742 1442 768C1447 795 1450 830 1452 870C1453 900 1453 935 1452 955C1450 970 1446 980 1439 987C1434 992 1430 996 1424 1000" stroke-width="12" stroke-linecap="butt"/>
<!-- connector -->
<path d="M1258 769L1317 745L1326 751L1323 769L1282 790L1276 793L1259 784Z" fill="#000" stroke-width="1.2"/>
<path d="M1261 770L1321 748" stroke="#fff" stroke-width="1.5"/>
<path d="M1299 740L1303 745M1303 738L1307 743M1307 737L1311 742M1311 735L1315 740M1315 734L1319 739" stroke-width="1" stroke="#555"/>
<path d="M1297 742L1320 733" stroke-width="1" stroke="#555"/>
<!-- plug body -->
<path d="M1355 1021C1362 1016 1372 1012 1385 1008C1398 1004 1410 998 1418 992L1427 990C1433 985 1438 978 1441 970L1443 960L1456 960C1455 975 1451 985 1444 995C1436 1003 1428 1008 1424 1018C1421 1028 1420 1036 1418 1040L1404 1048L1372 1066L1360 1060L1345 1032Z" fill="#000" stroke-width="1"/>
<path d="M1356 1022L1394 1036L1402 1049M1394 1036L1409 1027L1422 1001" stroke="#fff" stroke-width="1.6"/>
<!-- prongs -->
<path d="M1365 1034L1332 1053" stroke-width="7"/>
<path d="M1365 1034L1332 1053" stroke="#fff" stroke-width="3.6"/>
<path d="M1360 1035L1338 1048" stroke-width="1.8" stroke-dasharray="1 1"/>
<path d="M1392 1048L1359 1068" stroke-width="7"/>
<path d="M1392 1048L1359 1068" stroke="#fff" stroke-width="3.6"/>
<path d="M1388 1050L1362 1066" stroke-width="1.8" stroke-dasharray="1 1"/>
<path d="M1359 1048L1366 1050L1359 1056Z" stroke-width="1.3"/>
</g>
<!-- WIRE LOOP -->
<g id="wireloop">
<path d="M1231 949C1226 946 1219 942 1216 935C1214 930 1216 926 1220 924L1293 889C1305 884 1318 882 1330 883C1350 884 1368 888 1383 895C1398 902 1410 912 1415 922C1420 932 1420 945 1416 958C1411 970 1400 978 1385 985L1344 1005C1338 1007 1333 1006 1328 1002L1312 991" stroke-width="5"/>
<path d="M1231 949C1226 946 1219 942 1216 935C1214 930 1216 926 1220 924L1293 889C1305 884 1318 882 1330 883C1350 884 1368 888 1383 895C1398 902 1410 912 1415 922C1420 932 1420 945 1416 958C1411 970 1400 978 1385 985L1344 1005C1338 1007 1333 1006 1328 1002L1312 991" stroke="#fff" stroke-width="2"/>
</g>
<!-- DASH near cord -->
<path d="M1232 797L1297 841V984L1311 991" stroke-width="1.6" stroke-dasharray="21 7.5 2.5 8" stroke-linecap="butt"/>

<!-- LEADERS -->
<g id="leaders" stroke-width="2">
<path d="M525 68.5V413" stroke-width="1.4"/>
<path d="M661 55V297M937 372V458M862 511V611M1037 516V583M1117 500V583M1201 512V594"/>
<path d="M323 748V908M391 750V848M544 747V796"/>
<path d="M85 902H146M85 1031H136M84 1211H153M84 1371H141M84 1427H151M76 1502H152M76 1592H167M81 1701H147"/>
<path d="M309 1290V1345M522 1205V1357M719 1096V1353M950 966V1354M1088 940V1350M1226 946V1343M1357 1044V1345"/>
<path d="M488 668.5L475 697"/>
</g>

</g>
</svg>
</body></html>
